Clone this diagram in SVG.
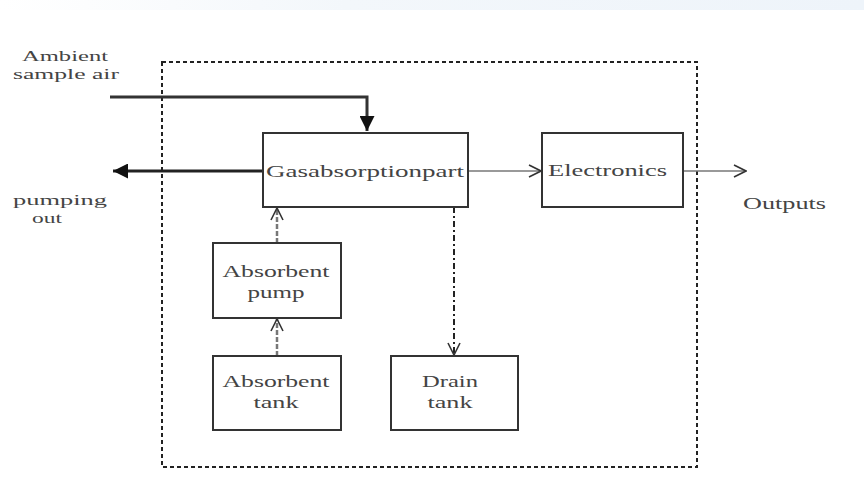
<svg xmlns="http://www.w3.org/2000/svg" width="864" height="502" viewBox="0 0 864 502">
<defs>
<linearGradient id="topband" x1="0" y1="0" x2="1" y2="0">
<stop offset="0" stop-color="#ffffff"/>
<stop offset="0.4" stop-color="#f3f7fb"/>
<stop offset="1" stop-color="#eef4fa"/>
</linearGradient>
<marker id="filled" viewBox="0 0 10 10" refX="10" refY="5" markerWidth="5" markerHeight="5" orient="auto" markerUnits="strokeWidth">
<path d="M0,0 L10,5 L0,10 z" fill="#111"/>
</marker>
<marker id="open" viewBox="0 0 14 14" refX="13" refY="7" markerWidth="14" markerHeight="14" orient="auto" markerUnits="userSpaceOnUse">
<path d="M1,1 L13,7 L1,13" fill="none" stroke="#333" stroke-width="1.6"/>
</marker>
</defs>
<style>
.box{fill:#fff;stroke:#333;stroke-width:2}
.t{font-family:"Liberation Serif","DejaVu Serif",serif;font-size:17px;fill:#444}
.s{font-size:15px}
.c{text-anchor:middle}
</style>
<rect x="0" y="0" width="864" height="10" fill="url(#topband)"/>
<rect x="0" y="10" width="864" height="492" fill="#fff"/>
<rect x="162" y="62" width="535" height="405" fill="none" stroke="#222" stroke-width="2" stroke-dasharray="4,3"/>
<g id="connectors" fill="none">
<path d="M110,97 H367 V131" stroke="#333" stroke-width="3" marker-end="url(#filled)"/>
<path d="M263,171 H113" stroke="#222" stroke-width="3" marker-end="url(#filled)"/>
<path d="M468,171 H541" stroke="#777" stroke-width="1.5" marker-end="url(#open)"/>
<path d="M683,171 H746" stroke="#777" stroke-width="1.5" marker-end="url(#open)"/>
<path d="M277,243 V208" stroke="#777" stroke-width="2.5" stroke-dasharray="5,2" marker-end="url(#open)"/>
<path d="M277,356 V319" stroke="#777" stroke-width="2.5" stroke-dasharray="5,2" marker-end="url(#open)"/>
<path d="M454,207 V355" stroke="#222" stroke-width="2" stroke-dasharray="6,3,2,3" marker-end="url(#open)"/>
</g>
<g id="gas">
<rect class="box" x="263" y="133" width="205" height="74"/>
<text class="t" x="266" y="177" textLength="198" lengthAdjust="spacingAndGlyphs">Gasabsorptionpart</text>
</g>
<g id="electronics">
<rect class="box" x="542" y="133" width="141" height="74"/>
<text class="t" x="548" y="176" textLength="119" lengthAdjust="spacingAndGlyphs">Electronics</text>
</g>
<g id="pump">
<rect class="box" x="213" y="243" width="128" height="75"/>
<text class="t c" x="276" y="277" textLength="107" lengthAdjust="spacingAndGlyphs">Absorbent</text>
<text class="t c" x="276" y="298" textLength="57" lengthAdjust="spacingAndGlyphs">pump</text>
</g>
<g id="tank">
<rect class="box" x="213" y="356" width="128" height="74"/>
<text class="t c" x="276" y="387" textLength="107" lengthAdjust="spacingAndGlyphs">Absorbent</text>
<text class="t c" x="276" y="408" textLength="45" lengthAdjust="spacingAndGlyphs">tank</text>
</g>
<g id="drain">
<rect class="box" x="391" y="356" width="127" height="74"/>
<text class="t c" x="450" y="387" textLength="56" lengthAdjust="spacingAndGlyphs">Drain</text>
<text class="t c" x="450" y="408" textLength="45" lengthAdjust="spacingAndGlyphs">tank</text>
</g>
<g id="labels">
<text class="t s" x="22" y="61" textLength="86" lengthAdjust="spacingAndGlyphs">Ambient</text>
<text class="t s" x="13" y="79" textLength="106" lengthAdjust="spacingAndGlyphs">sample air</text>
<text class="t s" x="13" y="205" textLength="94" lengthAdjust="spacingAndGlyphs">pumping</text>
<text class="t s" x="32" y="223" textLength="30" lengthAdjust="spacingAndGlyphs">out</text>
<text class="t" x="743" y="209" textLength="83" lengthAdjust="spacingAndGlyphs">Outputs</text>
</g>
</svg>
